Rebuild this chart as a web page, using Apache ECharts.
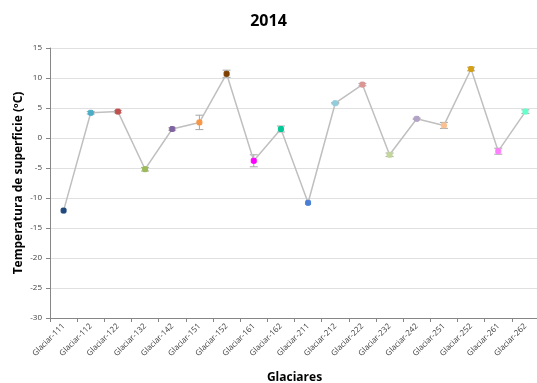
<!DOCTYPE html>
<html><head><meta charset="utf-8">
<script src="https://cdn.jsdelivr.net/npm/echarts@6/dist/echarts.min.js"></script>
<style>html,body{margin:0;padding:0;background:#fff}#c{width:537px;height:383px}</style>
</head><body><div id="c"></div>
<script>
var categories = ['Glaciar-111','Glaciar-112','Glaciar-122','Glaciar-132','Glaciar-142','Glaciar-151','Glaciar-152','Glaciar-161','Glaciar-162','Glaciar-211','Glaciar-212','Glaciar-222','Glaciar-232','Glaciar-242','Glaciar-251','Glaciar-252','Glaciar-261','Glaciar-262'];
var temps = [-12.1, 4.2, 4.4, -5.2, 1.5, 2.6, 10.7, -3.8, 1.5, -10.8, 5.8, 8.9, -2.8, 3.2, 2.1, 11.5, -2.2, 4.4];
var errors = [0, 0.2, 0.2, 0.3, 0.2, 1.2, 0.6, 1.0, 0.5, 0, 0.1, 0.2, 0.3, 0.1, 0.5, 0.3, 0.5, 0.3];
var pointColors = ['#1f497d','#4bacc6','#c0504d','#9bbb59','#8064a2','#f79646','#7f3f00','#ff00ff','#00c896','#4a7fd4','#92cddc','#d99694','#c3d69b','#b3a2c7','#fac090','#d4a017','#ff80ff','#66ffcc'];
var yTicks = {min: -30, max: 15, interval: 5};

var chart = echarts.init(document.getElementById('c'));
var font = '"Open Sans", "Liberation Sans", sans-serif';
chart.setOption({
  animation: false,
  title: {text: '2014', left: 'center', top: 8, textStyle: {fontFamily: font, fontSize: 16, fontWeight: 'bold', color: '#000'}},
  grid: {left: 50, right: -2, top: 48, bottom: 65, containLabel: false, outerBoundsMode: 'none'},
  xAxis: {
    type: 'category', data: categories, boundaryGap: true,
    name: 'Glaciares', nameLocation: 'middle', nameGap: 54, nameMoveOverlap: false,
    nameTextStyle: {fontFamily: font, fontSize: 12, fontWeight: 'bold', color: '#000'},
    axisLine: {onZero: false, lineStyle: {color: '#868686'}},
    axisTick: {show: true, length: 4, lineStyle: {color: '#868686'}},
    axisLabel: {rotate: 45, interval: 0, fontFamily: font, fontSize: 8, color: '#404040', margin: 7}
  },
  yAxis: {
    type: 'value', min: yTicks.min, max: yTicks.max, interval: yTicks.interval,
    name: 'Temperatura de superficie (ºC)', nameLocation: 'middle', nameGap: 25, nameMoveOverlap: false,
    nameTextStyle: {fontFamily: font, fontSize: 12, fontWeight: 'bold', color: '#000'},
    axisLine: {show: true, lineStyle: {color: '#868686'}},
    axisTick: {show: true, length: 4, lineStyle: {color: '#868686'}},
    splitLine: {lineStyle: {color: '#e0e0e0'}},
    axisLabel: {fontFamily: font, fontSize: 8, color: '#404040', margin: 8}
  },
  series: [
    {
      type: 'line',
      data: temps.map(function(v, i){ return {value: v, itemStyle: {color: pointColors[i], borderColor: pointColors[i]}}; }),
      symbol: 'roundRect', symbolSize: 5,
      lineStyle: {color: '#bfbfbf', width: 1.5},
      z: 3
    },
    {
      type: 'custom',
      data: temps.map(function(v, i){ return [i, v, errors[i]]; }),
      z: 2,
      renderItem: function(params, api) {
        var i = api.value(0), v = api.value(1), e = api.value(2);
        if (!e) return null;
        var top = api.coord([i, v + e]);
        var bot = api.coord([i, v - e]);
        var hw = 4;
        var st = {stroke: '#a6a6a6', lineWidth: 1};
        return {type: 'group', children: [
          {type: 'line', shape: {x1: top[0], y1: top[1], x2: bot[0], y2: bot[1]}, style: st},
          {type: 'line', shape: {x1: top[0]-hw, y1: top[1], x2: top[0]+hw, y2: top[1]}, style: st},
          {type: 'line', shape: {x1: bot[0]-hw, y1: bot[1], x2: bot[0]+hw, y2: bot[1]}, style: st}
        ]};
      }
    }
  ]
});
</script></body></html>
